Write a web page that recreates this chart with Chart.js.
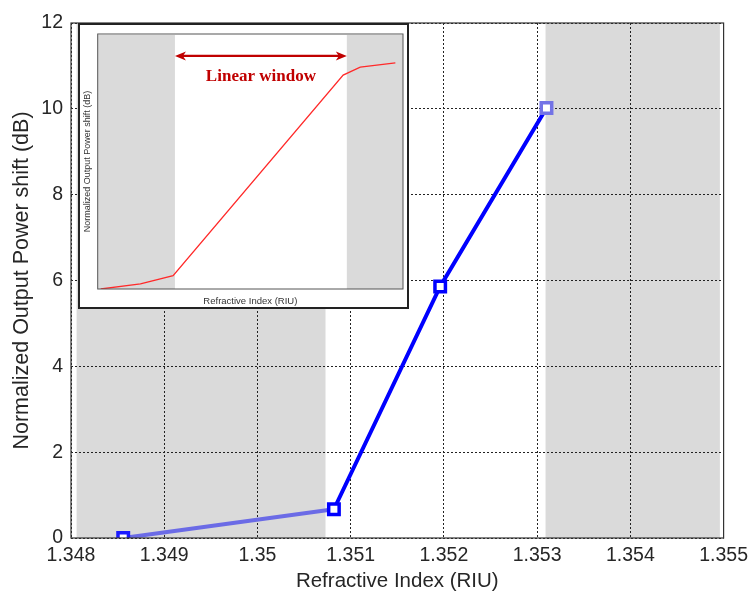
<!DOCTYPE html>
<html>
<head>
<meta charset="utf-8">
<script src="https://cdn.jsdelivr.net/npm/chart.js@4/dist/chart.umd.min.js"></script>
<style>
  html, body { margin: 0; padding: 0; background: #fff; }
  #wrap { position: relative; width: 754px; height: 592px; }
  #inset {
    position: absolute; left: 78px; top: 23px; width: 331px; height: 286px;
    box-sizing: border-box; border: 2px solid #222; background: #fff; z-index: 2;
  }
</style>
</head>
<body>
<div id="wrap">
  <canvas id="mainChart" width="754" height="592"></canvas>
  <div id="inset"><canvas id="insetChart" width="327" height="282"></canvas></div>
</div>
<script>
// ======================================
// data
// ======================================
const xTickLabels = ['1.348', '1.349', '1.35', '1.351', '1.352', '1.353', '1.354', '1.355'];
const yTickLabels = ['0', '2', '4', '6', '8', '10', '12'];
const refIndex = [1.34856, 1.35082, 1.35196, 1.35310];
const powerShift = [0, 0.67, 5.86, 10.02];

// gray shaded ranges (refractive index)
const bandFrom = [1.34806, 1.35309];
const bandTo = [1.35073, 1.35496];

// inset: normalized schematic curve (0..100 on both axes)
const insetX = [1, 14, 24.7, 80.4, 86, 97.5];
const insetY = [0, 2, 5.2, 83.9, 87, 88.7];
const insetBandFrom = [0, 81.6];
const insetBandTo = [25.3, 100];
const arrowRange = [25.3, 81.6];
const arrowLevel = 91.4;

const FONT = "'Liberation Sans', Arial, sans-serif";

// gray bands behind the grid
const bandsPlugin = {
    id: 'bands',
    beforeDraw(chart, args, opts) {
        const { ctx, chartArea, scales } = chart;
        ctx.save();
        ctx.fillStyle = '#dadada';
        opts.from.forEach((f, i) => {
            const x1 = scales.x.getPixelForValue(f);
            const x2 = scales.x.getPixelForValue(opts.to[i]);
            ctx.fillRect(x1, chartArea.top + 1, x2 - x1, chartArea.bottom - chartArea.top - 1);
        });
        ctx.restore();
    }
};

// box around the plot area
const framePlugin = {
    id: 'frame',
    afterDraw(chart, args, opts) {
        const { ctx, chartArea } = chart;
        ctx.save();
        ctx.strokeStyle = opts.color || '#333';
        ctx.lineWidth = opts.width || 1;
        ctx.strokeRect(chartArea.left, chartArea.top, chartArea.right - chartArea.left, chartArea.bottom - chartArea.top);
        ctx.restore();
    }
};

// ======================================
// MAIN CHART
// ======================================
new Chart(document.getElementById('mainChart'), {
    type: 'line',
    data: {
        datasets: [{
            data: refIndex.map((x, i) => ({ x: x, y: powerShift[i] })),
            borderColor: '#0000ff',
            borderWidth: 4,
            segment: {
                borderColor: c => c.p0DataIndex === 0 ? '#6b6be6' : '#0000ff'
            },
            pointStyle: 'rect',
            pointRadius: 7.4,
            pointBorderWidth: 3.5,
            pointBorderColor: ['#1a1aff', '#0000ff', '#0000ff', '#7373e6'],
            pointBackgroundColor: '#fff',
            tension: 0
        }]
    },
    options: {
        responsive: false,
        animation: false,
        devicePixelRatio: 1,
        layout: { padding: { top: 23, right: 26, left: 9, bottom: 0 } },
        plugins: {
            legend: { display: false },
            tooltip: { enabled: false },
            bands: { from: bandFrom, to: bandTo },
            frame: { color: '#333', width: 1.2 }
        },
        scales: {
            x: {
                type: 'linear',
                min: 1.348,
                max: 1.355,
                afterBuildTicks: s => {
                    s.ticks = xTickLabels.map((t, i) => ({ value: 1.348 + i * 0.001 }));
                },
                ticks: {
                    callback: (v, i) => xTickLabels[i],
                    color: '#262626',
                    font: { family: FONT, size: 19.5 },
                    padding: 6,
                    maxRotation: 0
                },
                grid: { color: '#222', lineWidth: 1, drawTicks: false },
                border: { display: false, dash: [2, 2] },
                title: {
                    display: true,
                    text: 'Refractive Index (RIU)',
                    color: '#262626',
                    font: { family: FONT, size: 20.5, lineHeight: 1.05 },
                    padding: { top: 2, bottom: 0 }
                },
                afterFit: s => { s.height = 54; }
            },
            y: {
                min: 0,
                max: 12,
                ticks: {
                    stepSize: 2,
                    callback: (v, i) => yTickLabels[i],
                    color: '#262626',
                    font: { family: FONT, size: 19.5 },
                    padding: 8
                },
                grid: { color: '#222', lineWidth: 1, drawTicks: false },
                border: { display: false, dash: [2, 2] },
                title: {
                    display: true,
                    text: 'Normalized Output Power shift (dB)',
                    color: '#262626',
                    font: { family: FONT, size: 21.5 },
                    padding: { top: 0, bottom: 0 }
                },
                afterFit: s => { s.width = 62; }
            }
        }
    },
    plugins: [bandsPlugin, framePlugin]
});

// ======================================
// INSET (schematic)
// ======================================
const arrowPlugin = {
    id: 'arrow',
    afterDatasetsDraw(chart) {
        const { ctx, scales } = chart;
        const x1 = scales.x.getPixelForValue(arrowRange[0]);
        const x2 = scales.x.getPixelForValue(arrowRange[1]);
        const y = scales.y.getPixelForValue(arrowLevel);
        ctx.save();
        ctx.strokeStyle = '#c00000';
        ctx.fillStyle = '#c00000';
        ctx.lineWidth = 2.2;
        ctx.beginPath();
        ctx.moveTo(x1 + 6, y);
        ctx.lineTo(x2 - 6, y);
        ctx.stroke();
        [[x1, 1], [x2, -1]].forEach(([x, d]) => {
            ctx.beginPath();
            ctx.moveTo(x, y);
            ctx.lineTo(x + d * 11, y - 4.5);
            ctx.lineTo(x + d * 8, y);
            ctx.lineTo(x + d * 11, y + 4.5);
            ctx.closePath();
            ctx.fill();
        });
        ctx.font = "bold 17px 'Liberation Serif', 'Times New Roman', serif";
        ctx.textAlign = 'center';
        ctx.textBaseline = 'middle';
        ctx.fillText('Linear window', (x1 + x2) / 2, y + 21);
        ctx.restore();
    }
};

new Chart(document.getElementById('insetChart'), {
    type: 'line',
    data: {
        datasets: [{
            data: insetX.map((x, i) => ({ x: x, y: insetY[i] })),
            borderColor: '#ff2a2a',
            borderWidth: 1.3,
            pointRadius: 0,
            tension: 0
        }]
    },
    options: {
        responsive: false,
        animation: false,
        devicePixelRatio: 1,
        layout: { padding: { top: 9, right: 4, left: 0, bottom: 0 } },
        plugins: {
            legend: { display: false },
            tooltip: { enabled: false },
            bands: { from: insetBandFrom, to: insetBandTo },
            frame: { color: '#555', width: 1 }
        },
        scales: {
            x: {
                type: 'linear',
                min: 0,
                max: 100,
                ticks: { display: false },
                grid: { display: false },
                border: { display: false },
                title: {
                    display: true,
                    text: 'Refractive Index (RIU)',
                    color: '#333',
                    font: { family: FONT, size: 9.5 },
                    padding: { top: 4, bottom: 0 }
                },
                afterFit: s => { s.height = 18; }
            },
            y: {
                min: 0,
                max: 100,
                ticks: { display: false },
                grid: { display: false },
                border: { display: false },
                title: {
                    display: true,
                    text: 'Normalized Output Power shift (dB)',
                    color: '#333',
                    font: { family: FONT, size: 9 },
                    padding: { top: 2, bottom: 0 }
                },
                afterFit: s => { s.width = 17.7; }
            }
        }
    },
    plugins: [bandsPlugin, framePlugin, arrowPlugin]
});
</script>
</body>
</html>
